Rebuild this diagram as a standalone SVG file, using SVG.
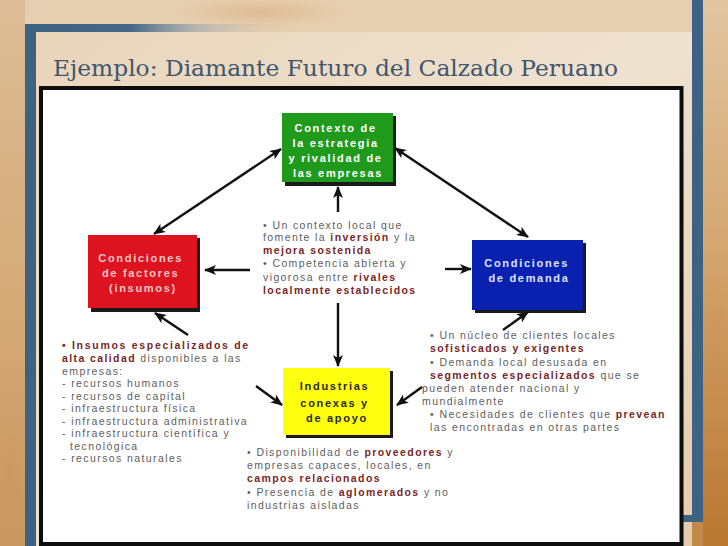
<svg xmlns="http://www.w3.org/2000/svg" width="728" height="546" viewBox="0 0 728 546">
  <defs>
    <linearGradient id="bgRight" x1="0" y1="0" x2="0" y2="1">
      <stop offset="0" stop-color="#e2c6a2"/>
      <stop offset="0.5" stop-color="#d2a26a"/>
      <stop offset="1" stop-color="#b9772f"/>
    </linearGradient>
    <linearGradient id="bgLeft" x1="0" y1="0" x2="0" y2="1">
      <stop offset="0" stop-color="#dcbd97"/>
      <stop offset="0.6" stop-color="#d4a874"/>
      <stop offset="1" stop-color="#c99660"/>
    </linearGradient>
    <linearGradient id="panel" x1="0" y1="0" x2="1" y2="1">
      <stop offset="0" stop-color="#e9d5ba"/>
      <stop offset="0.5" stop-color="#efe2d0"/>
      <stop offset="1" stop-color="#e4cbac"/>
    </linearGradient>
    <linearGradient id="topBar" x1="0" y1="0" x2="1" y2="0">
      <stop offset="0" stop-color="#3e6282"/>
      <stop offset="0.16" stop-color="#466886"/>
      <stop offset="0.26" stop-color="#9aa6ae" stop-opacity="0.6"/>
      <stop offset="0.4" stop-color="#d8c8b4" stop-opacity="0"/>
    </linearGradient>
    <radialGradient id="spot" cx="0.5" cy="0.5" r="0.5">
      <stop offset="0" stop-color="#c99055" stop-opacity="0.3"/>
      <stop offset="1" stop-color="#c99055" stop-opacity="0"/>
    </radialGradient>
    <marker id="ah" viewBox="0 0 12 10" refX="11" refY="5" markerWidth="12" markerHeight="10" markerUnits="userSpaceOnUse" orient="auto-start-reverse">
      <path d="M0,0 L12,5 L0,10 L3,5 z" fill="#111"/>
    </marker>
  </defs>
  <style>
    .box-txt { font-family: "Liberation Sans", Arial, sans-serif; font-weight: bold; font-size: 11px; letter-spacing: 1.7px; text-anchor: middle; }
    .body { font-family: "Liberation Sans", Arial, sans-serif; font-size: 10.5px; letter-spacing: 1.4px; fill: #5e5e5e; }
    .hi { font-weight: bold; fill: #7a2626; }
    .conn line { stroke: #111; stroke-width: 2.4; marker-end: url(#ah); }
    .conn line.both { marker-start: url(#ah); }
    .shadow { fill: #1a1a1a; }
  </style>

  <!-- background -->
  <rect x="0" y="0" width="728" height="546" fill="#dfc4a0"/>
  <rect x="0" y="0" width="728" height="60" fill="#e6cfb0"/>
  <rect x="703" y="0" width="25" height="546" fill="url(#bgRight)"/>
  <rect x="0" y="0" width="25" height="546" fill="url(#bgLeft)"/>
  <ellipse cx="260" cy="12" rx="90" ry="16" fill="url(#spot)"/>
  <ellipse cx="715" cy="330" rx="20" ry="60" fill="url(#spot)"/>
  <ellipse cx="10" cy="470" rx="14" ry="50" fill="url(#spot)"/>
  <rect x="683" y="522" width="20" height="24" fill="#c28a4a"/>

  <!-- inner panel -->
  <rect x="36" y="32" width="656" height="514" fill="url(#panel)"/>

  <!-- blue frame -->
  <rect x="25" y="24" width="11" height="522" fill="#3e6282"/>
  <rect x="25" y="24" width="667" height="8" fill="url(#topBar)"/>
  <rect x="692" y="0" width="11" height="522" fill="#3e6282"/>
  <rect x="683" y="515" width="20" height="7" fill="#3e6282"/>

  <!-- title -->
  <text x="53" y="76" font-family="'DejaVu Serif', 'Liberation Serif', serif" font-size="22" fill="#40566e" textLength="565" lengthAdjust="spacingAndGlyphs">Ejemplo: Diamante Futuro del Calzado Peruano</text>

  <!-- white picture box -->
  <rect x="41" y="88" width="640.5" height="456" fill="#ffffff" stroke="#0d0d0d" stroke-width="4"/>

  <!-- connectors -->
  <g id="connectors" class="conn">
    <line class="both" x1="154" y1="234" x2="281" y2="149"/>
    <line class="both" x1="395" y1="148" x2="528" y2="237"/>
    <line x1="338" y1="212" x2="338" y2="187"/>
    <line x1="338" y1="303" x2="338" y2="366"/>
    <line x1="250" y1="270" x2="205" y2="270"/>
    <line x1="445" y1="269" x2="471" y2="269"/>
    <line x1="188" y1="335" x2="155" y2="313"/>
    <line x1="256" y1="386" x2="282" y2="405"/>
    <line x1="422" y1="387" x2="397" y2="405"/>
    <line x1="503" y1="330" x2="528" y2="312"/>
  </g>

  <!-- nodes -->
  <g id="contexto">
    <rect class="shadow" x="285" y="116" width="111" height="70"/>
    <rect x="282" y="113" width="111" height="69" fill="#1f9a1d"/>
    <text class="box-txt" fill="#ffffff">
      <tspan x="338" y="132">Contexto de</tspan>
      <tspan x="338" y="147">la estrategia</tspan>
      <tspan x="338" y="162">y rivalidad de</tspan>
      <tspan x="338" y="177">las empresas</tspan>
    </text>
  </g>

  <g id="factores">
    <rect class="shadow" x="91" y="238" width="109" height="74" fill="#3a0a0a"/>
    <rect x="88" y="235" width="109" height="73" fill="#dd1420"/>
    <text class="box-txt" fill="#f7c6c6">
      <tspan x="143" y="262">Condiciones</tspan>
      <tspan x="143" y="277">de factores</tspan>
      <tspan x="143" y="292">(insumos)</tspan>
    </text>
  </g>

  <g id="demanda">
    <rect class="shadow" x="475" y="243" width="111" height="70" fill="#0a0f40"/>
    <rect x="472" y="240" width="111" height="70" fill="#0a21b0"/>
    <text class="box-txt" fill="#dfe4ff">
      <tspan x="529" y="267">Condiciones</tspan>
      <tspan x="529" y="282">de demanda</tspan>
    </text>
  </g>

  <g id="industrias">
    <rect class="shadow" x="286" y="371" width="107" height="67"/>
    <rect x="283" y="368" width="107" height="67" fill="#ffff10"/>
    <text class="box-txt" fill="#2a2a20">
      <tspan x="337" y="390">Industrias</tspan>
      <tspan x="337" y="407">conexas y</tspan>
      <tspan x="337" y="422">de apoyo</tspan>
    </text>
  </g>

  <!-- central text -->
  <g id="texto-contexto">
    <text class="body">
      <tspan x="263" y="229">• Un contexto local que</tspan>
      <tspan x="263" y="241">fomente la <tspan class="hi">inversión</tspan> y la</tspan>
      <tspan x="263" y="254" class="hi">mejora sostenida</tspan>
      <tspan x="263" y="267">• Competencia abierta y</tspan>
      <tspan x="263" y="281">vigorosa entre <tspan class="hi">rivales</tspan></tspan>
      <tspan x="263" y="294" class="hi">localmente establecidos</tspan>
    </text>
  </g>

  <!-- left text -->
  <g id="texto-factores">
    <text class="body">
      <tspan x="62" y="349" class="hi" style="letter-spacing:1.7px">• Insumos especializados de</tspan>
      <tspan x="62" y="362"><tspan class="hi">alta calidad</tspan> disponibles a las</tspan>
      <tspan x="62" y="375">empresas:</tspan>
      <tspan x="62" y="387">- recursos humanos</tspan>
      <tspan x="62" y="400">- recursos de capital</tspan>
      <tspan x="62" y="412">- infraestructura física</tspan>
      <tspan x="62" y="425">- infraestructura administrativa</tspan>
      <tspan x="62" y="437">- infraestructura científica y</tspan>
      <tspan x="70" y="450">tecnológica</tspan>
      <tspan x="62" y="462">- recursos naturales</tspan>
    </text>
  </g>

  <!-- right text -->
  <g id="texto-demanda">
    <text class="body">
      <tspan x="430" y="339">• Un núcleo de clientes locales</tspan>
      <tspan x="430" y="352" class="hi">sofisticados y exigentes</tspan>
      <tspan x="430" y="366">• Demanda local desusada en</tspan>
      <tspan x="430" y="379"><tspan class="hi">segmentos especializados</tspan> que se</tspan>
      <tspan x="422" y="392">pueden atender nacional y</tspan>
      <tspan x="422" y="405">mundialmente</tspan>
      <tspan x="430" y="418">• Necesidades de clientes que <tspan class="hi">prevean</tspan></tspan>
      <tspan x="430" y="431">las encontradas en otras partes</tspan>
    </text>
  </g>

  <!-- bottom text -->
  <g id="texto-industrias">
    <text class="body">
      <tspan x="247" y="456">• Disponibilidad de <tspan class="hi">proveedores</tspan> y</tspan>
      <tspan x="247" y="469">empresas capaces, locales, en</tspan>
      <tspan x="247" y="482" class="hi">campos relacionados</tspan>
      <tspan x="247" y="496">• Presencia de <tspan class="hi">aglomerados</tspan> y no</tspan>
      <tspan x="247" y="509">industrias aisladas</tspan>
    </text>
  </g>
</svg>
